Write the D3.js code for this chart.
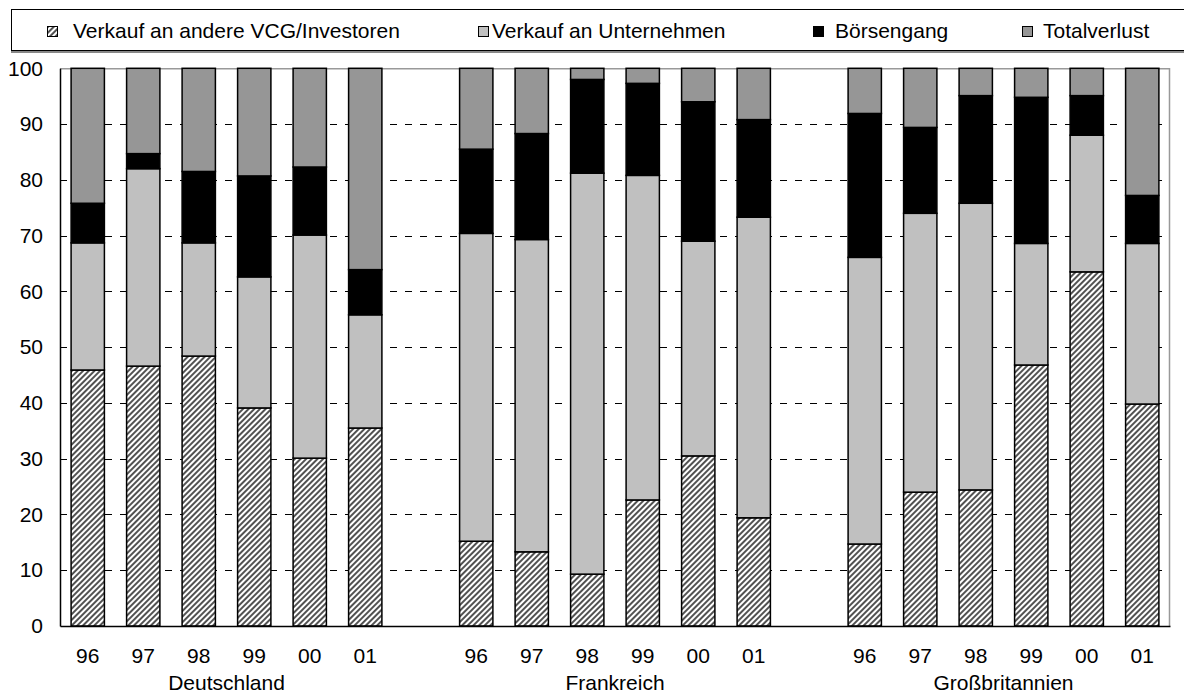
<!DOCTYPE html>
<html>
<head>
<meta charset="utf-8">
<script src="https://cdn.jsdelivr.net/npm/d3@7"></script>
<style>
  body { margin: 0; background: #fff; }
  svg { display: block; font-family: Arial, "Liberation Sans", sans-serif; }
</style>
</head>
<body>
<svg width="1184" height="695"></svg>
<script>
var countries = ["Deutschland", "Frankreich", "Großbritannien"];
var years = ["96", "97", "98", "99", "00", "01"];
var seriesNames = ["Verkauf an andere VCG/Investoren", "Verkauf an Unternehmen", "Börsengang", "Totalverlust"];

// values per bar, country by country (DE 96..01, FR 96..01, GB 96..01), in %
var vcg         = [45.9, 46.6, 48.4, 39.1, 30.1, 35.5,  15.2, 13.3,  9.3, 22.6, 30.5, 19.4,  14.7, 24.0, 24.4, 46.8, 63.5, 39.8];
var unternehmen = [22.8, 35.4, 20.3, 23.5, 40.0, 20.3,  55.2, 56.0, 71.9, 58.2, 38.5, 53.9,  51.4, 50.0, 51.4, 21.8, 24.5, 28.8];
var boerse      = [ 7.1,  2.7, 12.8, 18.1, 12.2,  8.1,  15.1, 19.0, 16.8, 16.5, 25.0, 17.5,  25.8, 15.4, 19.3, 26.2,  7.1,  8.6];
var verlust     = [24.2, 15.3, 18.5, 19.3, 17.7, 36.1,  14.5, 11.7,  2.0,  2.7,  6.0,  9.2,   8.1, 10.6,  4.9,  5.2,  4.9, 22.8];

var yTicks = [0, 10, 20, 30, 40, 50, 60, 70, 80, 90, 100];

var svg = d3.select("svg"),
    plotLeft = 60, plotRight = 1170, plotTop = 68.3, plotBottom = 626,
    fontSize = 21;

var keys = ["vcg", "unt", "boe", "ver"],
    fills = ["url(#hatch)", "#c0c0c0", "#000000", "#969696"];

// slots: six years per country, one empty slot between countries
var slots = [], rows = [];
countries.forEach(function(c, ci) {
  years.forEach(function(yr, yi) {
    var i = ci * years.length + yi, key = c + "-" + yr;
    slots.push(key);
    rows.push({key: key, year: yr, vcg: vcg[i], unt: unternehmen[i], boe: boerse[i], ver: verlust[i]});
  });
  if (ci < countries.length - 1) slots.push("gap" + ci);
});

var x = d3.scaleBand()
    .domain(slots)
    .range([plotLeft, plotRight])
    .paddingInner(0.4)
    .paddingOuter(0.2);

var y = d3.scaleLinear()
    .domain([0, 100])
    .range([plotBottom, plotTop]);

var defs = svg.append("defs");
var pat = defs.append("pattern")
    .attr("id", "hatch")
    .attr("patternUnits", "userSpaceOnUse")
    .attr("width", 4)
    .attr("height", 4)
    .attr("patternTransform", "rotate(45)");
pat.append("rect").attr("width", 4).attr("height", 4).attr("fill", "#fff");
pat.append("line")
    .attr("x1", 1).attr("y1", 0).attr("x2", 1).attr("y2", 4)
    .attr("stroke", "#333")
    .attr("stroke-width", 1.7);

// legend
var legend = svg.append("g");
legend.append("line")
    .attr("x1", 11).attr("x2", 1184).attr("y1", 52).attr("y2", 52)
    .attr("stroke", "#888").attr("stroke-width", 2);
legend.append("rect")
    .attr("x", 11.5).attr("y", 9.5)
    .attr("width", 1190).attr("height", 41)
    .attr("fill", "#fff").attr("stroke", "#000");

var swatchX = [47, 478, 813, 1022], textX = [73, 492, 835, 1043];
var item = legend.selectAll("g.item")
    .data(seriesNames)
  .enter().append("g")
    .attr("class", "item");
item.append("rect")
    .attr("x", function(d, i) { return swatchX[i] + 0.5; })
    .attr("y", 26.5)
    .attr("width", 10).attr("height", 10)
    .attr("fill", function(d, i) { return fills[i]; })
    .attr("stroke", "#000");
item.append("text")
    .attr("x", function(d, i) { return textX[i]; })
    .attr("y", 38)
    .attr("font-size", fontSize)
    .text(function(d) { return d; });

// grid lines
svg.append("g")
  .selectAll("line")
    .data(yTicks.filter(function(d) { return d > 0 && d < 100; }))
  .enter().append("line")
    .attr("x1", plotLeft).attr("x2", plotRight)
    .attr("y1", function(d) { return Math.round(y(d)) + 0.5; })
    .attr("y2", function(d) { return Math.round(y(d)) + 0.5; })
    .attr("stroke", "#000")
    .attr("stroke-dasharray", "7,8");

// plot frame (top and right in grey)
svg.append("path")
    .attr("d", "M" + plotLeft + "," + (plotTop + 0.5) + "H" + (plotRight - 0.5) + "V" + plotBottom)
    .attr("fill", "none")
    .attr("stroke", "#999")
    .attr("stroke-width", 1.5);

// stacked bars
var stack = d3.stack().keys(keys)(rows);

svg.append("g")
  .selectAll("g")
    .data(stack)
  .enter().append("g")
    .attr("fill", function(d, i) { return fills[i]; })
  .selectAll("rect")
    .data(function(d) { return d; })
  .enter().append("rect")
    .attr("x", function(d) { return x(d.data.key); })
    .attr("y", function(d) { return y(d[1]); })
    .attr("width", x.bandwidth())
    .attr("height", function(d) { return y(d[0]) - y(d[1]); })
    .attr("stroke", "#000")
    .attr("stroke-width", 1.5);

// y axis
var yAxis = svg.append("g")
    .attr("transform", "translate(" + plotLeft + ",0)")
    .call(d3.axisLeft(y).tickValues(yTicks).tickSize(0).tickPadding(17));
yAxis.select(".domain").attr("stroke", "#000").attr("stroke-width", 1.5);
yAxis.selectAll("text").attr("font-size", fontSize).attr("font-family", null).attr("fill", "#000");

// x axis
var xAxis = svg.append("g")
    .attr("transform", "translate(0," + plotBottom + ")")
    .call(d3.axisBottom(x)
      .tickValues(slots.filter(function(s) { return s.indexOf("gap") !== 0; }))
      .tickFormat(function(s) { return s.split("-")[1]; })
      .tickSize(0)
      .tickPadding(22));
xAxis.select(".domain").attr("stroke", "#000").attr("stroke-width", 1.5);
xAxis.selectAll("text").attr("font-size", fontSize).attr("font-family", null).attr("fill", "#000");

// country labels
svg.append("g")
  .selectAll("text")
    .data(countries)
  .enter().append("text")
    .attr("x", function(c) {
      return (x(c + "-" + years[0]) + x(c + "-" + years[years.length - 1]) + x.bandwidth()) / 2;
    })
    .attr("y", 690)
    .attr("text-anchor", "middle")
    .attr("font-size", fontSize)
    .text(function(c) { return c; });
</script>
</body>
</html>
